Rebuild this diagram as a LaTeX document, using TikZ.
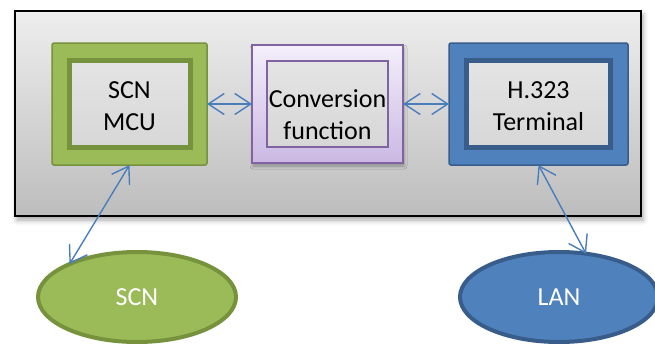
\documentclass[tikz,border=0pt]{standalone}
\usepackage{fontspec}
\setmainfont{Carlito}
\usetikzlibrary{arrows.meta,shapes.geometric,shadows.blur}

\definecolor{grnfill}{HTML}{9BBB59}
\definecolor{grndark}{HTML}{76923C}
\definecolor{bluefill}{HTML}{4F81BD}
\definecolor{bluedark}{HTML}{385D8A}
\definecolor{purpdark}{HTML}{8064A2}
\definecolor{purptop}{HTML}{F3EFFA}
\definecolor{purpbot}{HTML}{CBB8E3}
\definecolor{innertop}{HTML}{E4E4E4}
\definecolor{innerbot}{HTML}{D7D7D7}
\definecolor{frametop}{HTML}{EEEEEE}
\definecolor{framebot}{HTML}{BDBDBD}
\definecolor{linkblue}{HTML}{4A7EBB}

\tikzset{
  box/.style={rectangle, inner sep=0pt, outer sep=0pt},
  framebox/.style={box, draw=black, line width=2pt, top color=frametop, bottom color=framebot,
    blur shadow={shadow xshift=2pt, shadow yshift=-4pt, shadow blur radius=5pt, shadow opacity=35}},
  innerbox/.style={box, top color=innertop, bottom color=innerbot},
  lbl/.style={inner sep=0pt, align=center, font=\fontsize{26}{32}\selectfont},
  cloud/.style={ellipse, inner sep=0pt, outer sep=0pt, line width=4pt,
    minimum width=198pt, minimum height=90pt, text=white, font=\fontsize{26}{32}\selectfont},
  barb/.tip={Straight Barb[length=16pt,width=21pt,line width=1.4pt]},
  link/.style={draw=linkblue, line width=1.4pt, barb-barb},
}

\begin{document}
\begin{tikzpicture}[x=1pt,y=-1pt]
\useasboundingbox (0,0) rectangle (655,343);

% enclosing gateway frame
\node[framebox, minimum width=626pt, minimum height=205pt] (frame) at (328,113.5) {};

% SCN MCU block
\node[box, draw=grndark, fill=grnfill, line width=1.5pt, rounded corners=2pt,
      minimum width=155pt, minimum height=122pt] (mcu) at (129.5,104) {};
\node[innerbox, draw=grndark, line width=5pt,
      minimum width=121pt, minimum height=87pt] (mcuin) at (129.5,104) {};
\node[lbl] (mcutxt) at (129.5,106) {SCN\\MCU};

% conversion function block
\node[box, draw=purpdark, line width=1.5pt, top color=purptop, bottom color=purpbot,
      minimum width=151pt, minimum height=118pt,
      blur shadow={shadow xshift=1pt, shadow yshift=-3pt, shadow blur radius=3pt, shadow opacity=30}]
      (conv) at (327.5,104) {};
\node[innerbox, draw=purpdark, line width=2pt,
      minimum width=121pt, minimum height=86pt] (convin) at (327.5,104) {};
\node[lbl] (convtxt) at (327.5,114.5) {Conversion\\function};

% H.323 terminal block
\node[box, draw=bluedark, fill=bluefill, line width=1.5pt, rounded corners=2pt,
      minimum width=179pt, minimum height=122pt] (term) at (538.5,104) {};
\node[innerbox, draw=bluedark, line width=5pt,
      minimum width=144pt, minimum height=87pt] (termin) at (538.5,104) {};
\node[lbl] (termtxt) at (538.5,106) {H.323\\Terminal};

% networks
\node[cloud, draw=grndark, fill=grnfill] (scn) at (137,297) {SCN};
\node[cloud, draw=bluedark, fill=bluefill] (lan) at (559,297) {LAN};

% connectors
\draw[link] (mcu.east) -- (conv.west);
\draw[link] (conv.east) -- (term.west);
\draw[link] (mcu.south) -- (scn.154);
\draw[link] (term.south) -- (lan.58);
\end{tikzpicture}
\end{document}
